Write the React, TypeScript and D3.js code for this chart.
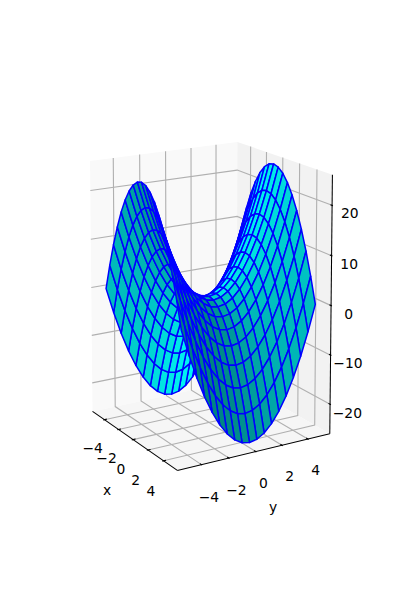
import React from "react";
import * as d3 from "d3";

const xValues = [-5,-4.444,-3.889,-3.333,-2.778,-2.222,-1.667,-1.111,-0.556,0,0.556,1.111,1.667,2.222,2.778,3.333,3.889,4.444,5];
const yValues = [-5,-4.444,-3.889,-3.333,-2.778,-2.222,-1.667,-1.111,-0.556,0,0.556,1.111,1.667,2.222,2.778,3.333,3.889,4.444,5];
const zRow0 = [0,5.247,9.877,13.889,17.284,20.062,22.222,23.765,24.691,25,24.691,23.765,22.222,20.062,17.284,13.889,9.877,5.247,0];
const zRow1 = [-5.247,0,4.63,8.642,12.037,14.815,16.975,18.518,19.444,19.753,19.444,18.518,16.975,14.815,12.037,8.642,4.63,0,-5.247];
const zRow2 = [-9.877,-4.63,0,4.012,7.407,10.185,12.345,13.888,14.814,15.123,14.814,13.888,12.345,10.185,7.407,4.012,0,-4.63,-9.877];
const zRow3 = [-13.889,-8.642,-4.012,0,3.395,6.173,8.333,9.876,10.802,11.111,10.802,9.876,8.333,6.173,3.395,0,-4.012,-8.642,-13.889];
const zRow4 = [-17.284,-12.037,-7.407,-3.395,0,2.778,4.938,6.481,7.407,7.716,7.407,6.481,4.938,2.778,0,-3.395,-7.407,-12.037,-17.284];
const zRow5 = [-20.062,-14.815,-10.185,-6.173,-2.778,0,2.16,3.703,4.629,4.938,4.629,3.703,2.16,0,-2.778,-6.173,-10.185,-14.815,-20.062];
const zRow6 = [-22.222,-16.975,-12.345,-8.333,-4.938,-2.16,0,1.543,2.469,2.778,2.469,1.543,0,-2.16,-4.938,-8.333,-12.345,-16.975,-22.222];
const zRow7 = [-23.765,-18.518,-13.888,-9.876,-6.481,-3.703,-1.543,0,0.926,1.235,0.926,0,-1.543,-3.703,-6.481,-9.876,-13.888,-18.518,-23.765];
const zRow8 = [-24.691,-19.444,-14.814,-10.802,-7.407,-4.629,-2.469,-0.926,0,0.309,0,-0.926,-2.469,-4.629,-7.407,-10.802,-14.814,-19.444,-24.691];
const zRow9 = [-25,-19.753,-15.123,-11.111,-7.716,-4.938,-2.778,-1.235,-0.309,0,-0.309,-1.235,-2.778,-4.938,-7.716,-11.111,-15.123,-19.753,-25];
const zGrid = [zRow0,zRow1,zRow2,zRow3,zRow4,zRow5,zRow6,zRow7,zRow8,zRow9,zRow8,zRow7,zRow6,zRow5,zRow4,zRow3,zRow2,zRow1,zRow0];
const xTicks = [-4,-2,0,2,4];
const yTicks = [-4,-2,0,2,4];
const zTicks = [-20,-10,0,10,20];

const ELEV = 11.75, AZIM = -31, DIST = 10;
const FONT = "'DejaVu Sans', sans-serif";
const FS = 13.889;
type V3 = [number, number, number];

const LIM = 5.5;
const sx = d3.scaleLinear().domain([-LIM, LIM]).range([0, 1]);
const sy = d3.scaleLinear().domain([-LIM, LIM]).range([0, 1]);
const sz = d3.scaleLinear().domain([-25, 25]).range([0, 1]);
const pxX = d3.scaleLinear().domain([0, 0.1]).range([209.1, 376.8]);
const pxY = d3.scaleLinear().domain([0, 0.1]).range([296.4, 46.7]);

const el = (ELEV * Math.PI) / 180, az = (AZIM * Math.PI) / 180;
const w: V3 = [Math.cos(el) * Math.cos(az), Math.cos(el) * Math.sin(az), Math.sin(el)];
const E: V3 = [0.5 + DIST * w[0], 0.5 + DIST * w[1], 0.5 + DIST * w[2]];
const cross = (a: V3, b: V3): V3 => [a[1]*b[2]-a[2]*b[1], a[2]*b[0]-a[0]*b[2], a[0]*b[1]-a[1]*b[0]];
const dot = (a: V3, b: V3) => a[0]*b[0]+a[1]*b[1]+a[2]*b[2];
const c0 = cross([0, 0, 1], w);
const cn = Math.hypot(...c0);
const u: V3 = [c0[0]/cn, c0[1]/cn, c0[2]/cn];
const v = cross(w, u);

function view(p: V3): V3 {
  const q: V3 = [sx(p[0]) - E[0], sy(p[1]) - E[1], sz(p[2]) - E[2]];
  return [dot(u, q), dot(v, q), dot(w, q)];
}
function proj(p: V3): [number, number] {
  const q = view(p);
  return [pxX(q[0] / -q[2]), pxY(q[1] / -q[2])];
}
const path = (pts: V3[], close = false) =>
  (d3.line()(pts.map(proj)) ?? "") + (close ? "Z" : "");

const LX = LIM * (1 + 1 / 24), LZ = 25 + 50 / 48;
const DX = (2 * LIM) / 12, DZ = 50 / 12;
const DPP = 48 / (Math.hypot(310, 462) / 100 * 72);
const LD = (3.5 + 8) * DPP;
const LDA = (4 + 21) * DPP;

const LIGHT: V3 = [Math.cos(-135 * Math.PI / 180) * Math.cos(19.4712 * Math.PI / 180), Math.sin(-135 * Math.PI / 180) * Math.cos(19.4712 * Math.PI / 180), Math.sin(19.4712 * Math.PI / 180)];

type Cell = { d: string; depth: number; shade: number };
const cells: Cell[] = [];
for (let r = 0; r < yValues.length - 1; r++) {
  for (let c = 0; c < xValues.length - 1; c++) {
    const pts: V3[] = [
      [xValues[c], yValues[r], zGrid[r][c]],
      [xValues[c + 1], yValues[r], zGrid[r][c + 1]],
      [xValues[c + 1], yValues[r + 1], zGrid[r + 1][c + 1]],
      [xValues[c], yValues[r + 1], zGrid[r + 1][c]],
    ];
    const a: V3 = [pts[0][0]-pts[1][0], pts[0][1]-pts[1][1], pts[0][2]-pts[1][2]];
    const b: V3 = [pts[1][0]-pts[2][0], pts[1][1]-pts[2][1], pts[1][2]-pts[2][2]];
    const n = cross(a, b);
    cells.push({
      d: path(pts, true),
      depth: d3.mean(pts, (p) => view(p)[2]) as number,
      shade: dot(n, LIGHT) / Math.hypot(...n),
    });
  }
}
cells.sort((p, q) => d3.ascending(p.depth, q.depth));
const shadeScale = d3.scaleLinear()
  .domain(d3.extent(cells, (c) => c.shade) as [number, number])
  .range([0.5, 1]);
const fillOf = (s: number) => {
  const g = Math.round(shadeScale(s) * 255);
  return `rgb(0,${g},${g})`;
};

const GRID = "#b0b0b0";
const GW = 1.11;
const fmt = (t: number) => (t < 0 ? "\u2212" + Math.abs(t) : String(t));

function Label({ p, text, dx = 0, dy = 0 }: { p: V3; text: string; dx?: number; dy?: number }) {
  const [x, y] = proj(p);
  return (
    <text x={x + dx} y={y + 5 + dy} textAnchor="middle" fontFamily={FONT} fontSize={FS} fill="#000">
      {text}
    </text>
  );
}

export default function App() {
  return (
    <svg width={400} height={600} style={{ position: "absolute", left: 0, top: 0 }}>
      <rect width={400} height={600} fill="#fff" />
      <path d={path([[-LX,-LX,-LZ],[-LX,LX,-LZ],[-LX,LX,LZ],[-LX,-LX,LZ]], true)} fill="#f9f9f9" stroke="none" />
      <path d={path([[-LX,LX,-LZ],[LX,LX,-LZ],[LX,LX,LZ],[-LX,LX,LZ]], true)} fill="#f2f2f2" stroke="none" />
      <path d={path([[-LX,-LX,-LZ],[LX,-LX,-LZ],[LX,LX,-LZ],[-LX,LX,-LZ]], true)} fill="#f6f6f6" stroke="none" />
      <g fill="none" stroke={GRID} strokeWidth={GW}>
        {xTicks.map((t) => <path key={t} d={path([[t,-LX,-LZ],[t,LX,-LZ],[t,LX,LZ]])} />)}
        {yTicks.map((t) => <path key={t} d={path([[LX,t,-LZ],[-LX,t,-LZ],[-LX,t,LZ]])} />)}
        {zTicks.map((t) => <path key={t} d={path([[-LX,-LX,t],[-LX,LX,t],[LX,LX,t]])} />)}
      </g>
      <g fill="none" stroke="#000" strokeWidth={1.04}>
        <path d={path([[-LX,-LX,-LZ],[LX,-LX,-LZ]])} />
        <path d={path([[LX,-LX,-LZ],[LX,LX,-LZ]])} />
        <path d={path([[LX,LX,-LZ],[LX,LX,LZ]])} />
      </g>
      <g fill="none" stroke="#000" strokeWidth={1.11}>
        {xTicks.map((t) => <path key={t} d={path([[t,-LX+0.2*DX,-LZ],[t,-LX-0.1*DX,-LZ]])} />)}
        {yTicks.map((t) => <path key={t} d={path([[LX-0.2*DX,t,-LZ],[LX+0.1*DX,t,-LZ]])} />)}
        {zTicks.map((t) => <path key={t} d={path([[LX-0.2*DX,LX,t],[LX+0.1*DX,LX,t]])} />)}
      </g>
      {xTicks.map((t) => <Label key={t} p={[t, -LX - LD*DX, -LZ - LD*DZ]} text={fmt(t)} dx={5} dy={-3} />)}
      {yTicks.map((t) => <Label key={t} p={[LX + LD*DX, t, -LZ - LD*DZ]} text={fmt(t)} dx={-3} dy={-4} />)}
      {zTicks.map((t) => <Label key={t} p={[LX + LD*DX, LX + LD*DX, t]} text={fmt(t)} dx={-10} dy={6} />)}
      <g stroke="#0000ff" strokeWidth={1.5} strokeLinejoin="round">
        {cells.map((c, i) => <path key={i} d={c.d} fill={fillOf(c.shade)} />)}
      </g>
      <Label p={[0, -LX - LDA*DX, -LZ - LDA*DZ]} text="x" dx={11.5} dy={-20} />
      <Label p={[LX + LDA*DX, 0, -LZ - LDA*DZ]} text="y" dx={-6} dy={-23} />
    </svg>
  );
}
